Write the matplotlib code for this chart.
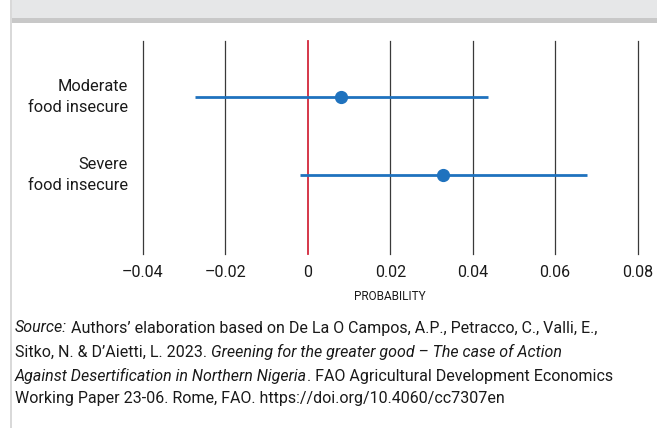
import matplotlib
matplotlib.use("Agg")
import matplotlib.pyplot as plt
from matplotlib.patches import Rectangle
from matplotlib.offsetbox import TextArea, HPacker, AnchoredOffsetbox

categories = ["Moderate\nfood insecure", "Severe\nfood insecure"]
estimates = [0.008, 0.0329]
lower = [-0.0275, -0.0019]
upper = [0.0437, 0.0677]
xticks = [-0.04, -0.02, 0, 0.02, 0.04, 0.06, 0.08]
xticklabels = ["\u20130.04", "\u20130.02", "0", "0.02", "0.04", "0.06", "0.08"]

FONT = ["Roboto", "DejaVu Sans"]
plt.rcParams["font.family"] = FONT
TXT = "#1a1a1a"

W, H = 657, 428
fig = plt.figure(figsize=(W / 100, H / 100), dpi=100)
fig.patch.set_facecolor("white")

def fx(px):
    return px / W

def fy(py):
    return 1 - py / H

# Decorative frame
fig.add_artist(Rectangle((fx(12), fy(18)), 1, 18 / H, transform=fig.transFigure,
                         facecolor="#e6e7e8", edgecolor="none"))
fig.add_artist(Rectangle((fx(12), fy(23)), 1, 5 / H, transform=fig.transFigure,
                         facecolor="#c8c8c8", edgecolor="none"))
fig.add_artist(Rectangle((fx(10), 0), 2 / W, 1, transform=fig.transFigure,
                         facecolor="#d9d9d9", edgecolor="none"))

left_px, right_px = 143, 637.5
top_px, bot_px = 41, 254
ax = fig.add_axes([fx(left_px), fy(bot_px), (right_px - left_px) / W, (bot_px - top_px) / H])
ax.set_xlim(-0.04, 0.08)
ypos = [1, 0]
row_gap = 78.0
ax.set_ylim(0 - (bot_px - 175) / row_gap, 1 + (97 - top_px) / row_gap)
for s in ax.spines.values():
    s.set_visible(False)
ax.set_facecolor("none")

for xt in xticks:
    color = "#d2283c" if xt == 0 else "#3a3a3a"
    lw = 1.3 if xt == 0 else 0.9
    ax.axvline(xt, color=color, lw=lw, clip_on=False, zorder=1)

for y, e, lo, hi in zip(ypos, estimates, lower, upper):
    ax.plot([lo, hi], [y, y], color="#1f72be", lw=2.0, solid_capstyle="butt", zorder=3)
    ax.plot([e], [y], "o", color="#1f72be", markersize=8.5, zorder=4)

ax.set_xticks(xticks)
ax.set_xticklabels(xticklabels, fontsize=11.5, color=TXT)
ax.tick_params(axis="x", length=0, pad=8)
ax.set_yticks([])
px_per_unit = (right_px - left_px) / 0.12
for y, lab in zip(ypos, categories):
    ax.text(-0.04 - 15 / px_per_unit, y, lab, ha="right", va="center",
            fontsize=11.8, color=TXT, linespacing=1.45)

fig.text(fx(390), fy(296), "PROBABILITY", ha="center", va="center", fontsize=8.5, color=TXT)

src_x = fx(15)
lines_y = [328, 352, 376, 399]

def line(parts, y):
    boxes = []
    for txt, it in parts:
        boxes.append(TextArea(txt, textprops=dict(fontsize=11.5, color=TXT,
                                                  style="italic" if it else "normal",
                                                  family=FONT)))
    pk = HPacker(children=boxes, align="baseline", pad=0, sep=0)
    ab = AnchoredOffsetbox(loc="center left", child=pk, pad=0, frameon=False,
                           bbox_to_anchor=(src_x, fy(y)), bbox_transform=fig.transFigure,
                           borderpad=0)
    fig.add_artist(ab)

line([("Source:", True), (" Authors\u2019 elaboration based on De La O Campos, A.P., Petracco, C., Valli, E.,", False)], lines_y[0])
line([("Sitko, N. & D\u2019Aietti, L. 2023. ", False), ("Greening for the greater good \u2013 The case of Action", True)], lines_y[1])
line([("Against Desertification in Northern Nigeria", True), (". FAO Agricultural Development Economics", False)], lines_y[2])
line([("Working Paper 23-06. Rome, FAO. https://doi.org/10.4060/cc7307en", False)], lines_y[3])

fig.savefig("out.png", dpi=100, facecolor="white")
